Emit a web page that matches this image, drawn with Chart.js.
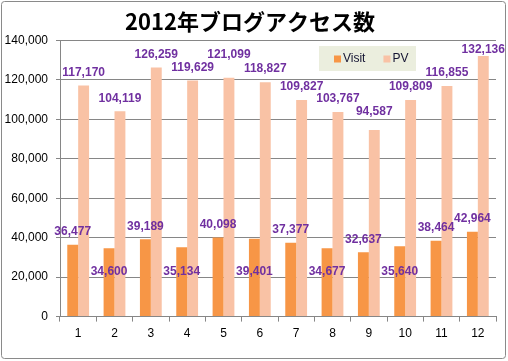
<!DOCTYPE html>
<html>
<head>
<meta charset="utf-8">
<script src="https://cdn.jsdelivr.net/npm/chart.js@4.4.1/dist/chart.umd.min.js"></script>
<style>
  html, body { margin: 0; padding: 0; background: #fff; }
  #wrap { width: 508px; height: 361px; }
</style>
</head>
<body>
<div id="wrap"><canvas id="accessChart" width="508" height="361"></canvas></div>
<script>
// 2012 blog access counts by month
const months = ['1', '2', '3', '4', '5', '6', '7', '8', '9', '10', '11', '12'];
const visits = [36477, 34600, 39189, 35134, 40098, 39401, 37377, 34677, 32637, 35640, 38464, 42964];
const pageViews = [117170, 104119, 126259, 119629, 121099, 118827, 109827, 103767, 94587, 109809, 116855, 132136];
const yTicks = [0, 20000, 40000, 60000, 80000, 100000, 120000, 140000];

const gridColor = '#868686';
const labelColor = '#7030A0';
const axisFont = { family: '"Liberation Sans", Arial, sans-serif', size: 12 };

const fmt = v => v.toLocaleString('en-US');

// outer frame like the Excel chart border
const framePlugin = {
  id: 'frame',
  beforeDraw(chart) {
    const c = chart.ctx;
    c.save();
    c.fillStyle = '#fff';
    c.fillRect(0, 0, chart.width, chart.height);
    c.strokeStyle = '#8a8a8a';
    c.lineWidth = 1;
    c.beginPath();
    c.roundRect(1.5, 1.5, chart.width - 4, chart.height - 4, 3);
    c.stroke();
    c.restore();
  }
};

// value labels (some Visit labels were dragged down in the original)
const valueLabels = {
  id: 'valueLabels',
  afterDatasetsDraw(chart) {
    const c = chart.ctx;
    const yScale = chart.scales.y;
    const pvNudge = { 4: -10, 8: -5, 11: 7 };
    c.save();
    c.font = 'bold 12px "Liberation Sans", Arial, sans-serif';
    c.fillStyle = labelColor;
    c.textAlign = 'center';
    c.textBaseline = 'middle';
    chart.data.datasets.forEach((ds, di) => {
      chart.getDatasetMeta(di).data.forEach((bar, i) => {
        let y = bar.y - 13;
        if (di === 0 && i % 2 === 1 && i !== 11) {
          y = yScale.getPixelForValue(22800);
        }
        if (di === 1 && pvNudge[i]) y += pvNudge[i];
        c.fillText(fmt(ds.data[i]), bar.x, y);
      });
    });
    c.restore();
  }
};

// legend box inside the plot area
const boxLegend = {
  id: 'boxLegend',
  afterDraw(chart) {
    const c = chart.ctx;
    const x0 = 319, y0 = 46, w = 97, h = 25;
    c.save();
    c.fillStyle = '#EBEEDE';
    c.fillRect(x0, y0, w, h);
    c.font = '12px "Liberation Sans", Arial, sans-serif';
    c.textBaseline = 'middle';
    let x = x0 + 15;
    const cy = y0 + h / 2 + 0.5;
    chart.data.datasets.forEach(ds => {
      c.fillStyle = ds.backgroundColor;
      c.fillRect(x, cy - 3.5, 7, 7);
      c.fillStyle = '#141432';
      c.fillText(ds.label, x + 9, cy);
      x += 9 + c.measureText(ds.label).width + 18;
    });
    c.restore();
  }
};

new Chart(document.getElementById('accessChart'), {
  type: 'bar',
  data: {
    labels: months,
    datasets: [
      {
        label: 'Visit',
        data: visits,
        backgroundColor: '#F79646',
        categoryPercentage: 0.6,
        barPercentage: 1.0
      },
      {
        label: 'PV',
        data: pageViews,
        backgroundColor: '#F9C2A5',
        categoryPercentage: 0.6,
        barPercentage: 1.0
      }
    ]
  },
  options: {
    responsive: false,
    animation: false,
    layout: {
      padding: { top: 5, left: 4, right: 12, bottom: 15 }
    },
    plugins: {
      legend: { display: false },
      tooltip: { enabled: false },
      title: {
        display: true,
        text: '2012年ブログアクセス数',
        color: '#000',
        font: { family: '"Noto Sans CJK JP", sans-serif', size: 22, weight: 'bold' },
        padding: { top: 3, bottom: 6 }
      }
    },
    scales: {
      x: {
        grid: {
          display: true,
          drawOnChartArea: false,
          offset: true,
          tickLength: 5,
          tickColor: gridColor
        },
        border: { color: gridColor },
        ticks: { color: '#000', font: axisFont, padding: 5 }
      },
      y: {
        min: 0,
        max: 140000,
        afterBuildTicks(scale) {
          scale.ticks = yTicks.map(v => ({ value: v }));
        },
        afterFit(scale) {
          scale.width = 56;
        },
        grid: {
          color: gridColor,
          tickLength: 4,
          tickColor: gridColor
        },
        border: { color: gridColor },
        ticks: {
          color: '#000',
          font: axisFont,
          padding: 8,
          callback: v => fmt(v)
        }
      }
    }
  },
  plugins: [framePlugin, valueLabels, boxLegend]
});
</script>
</body>
</html>
